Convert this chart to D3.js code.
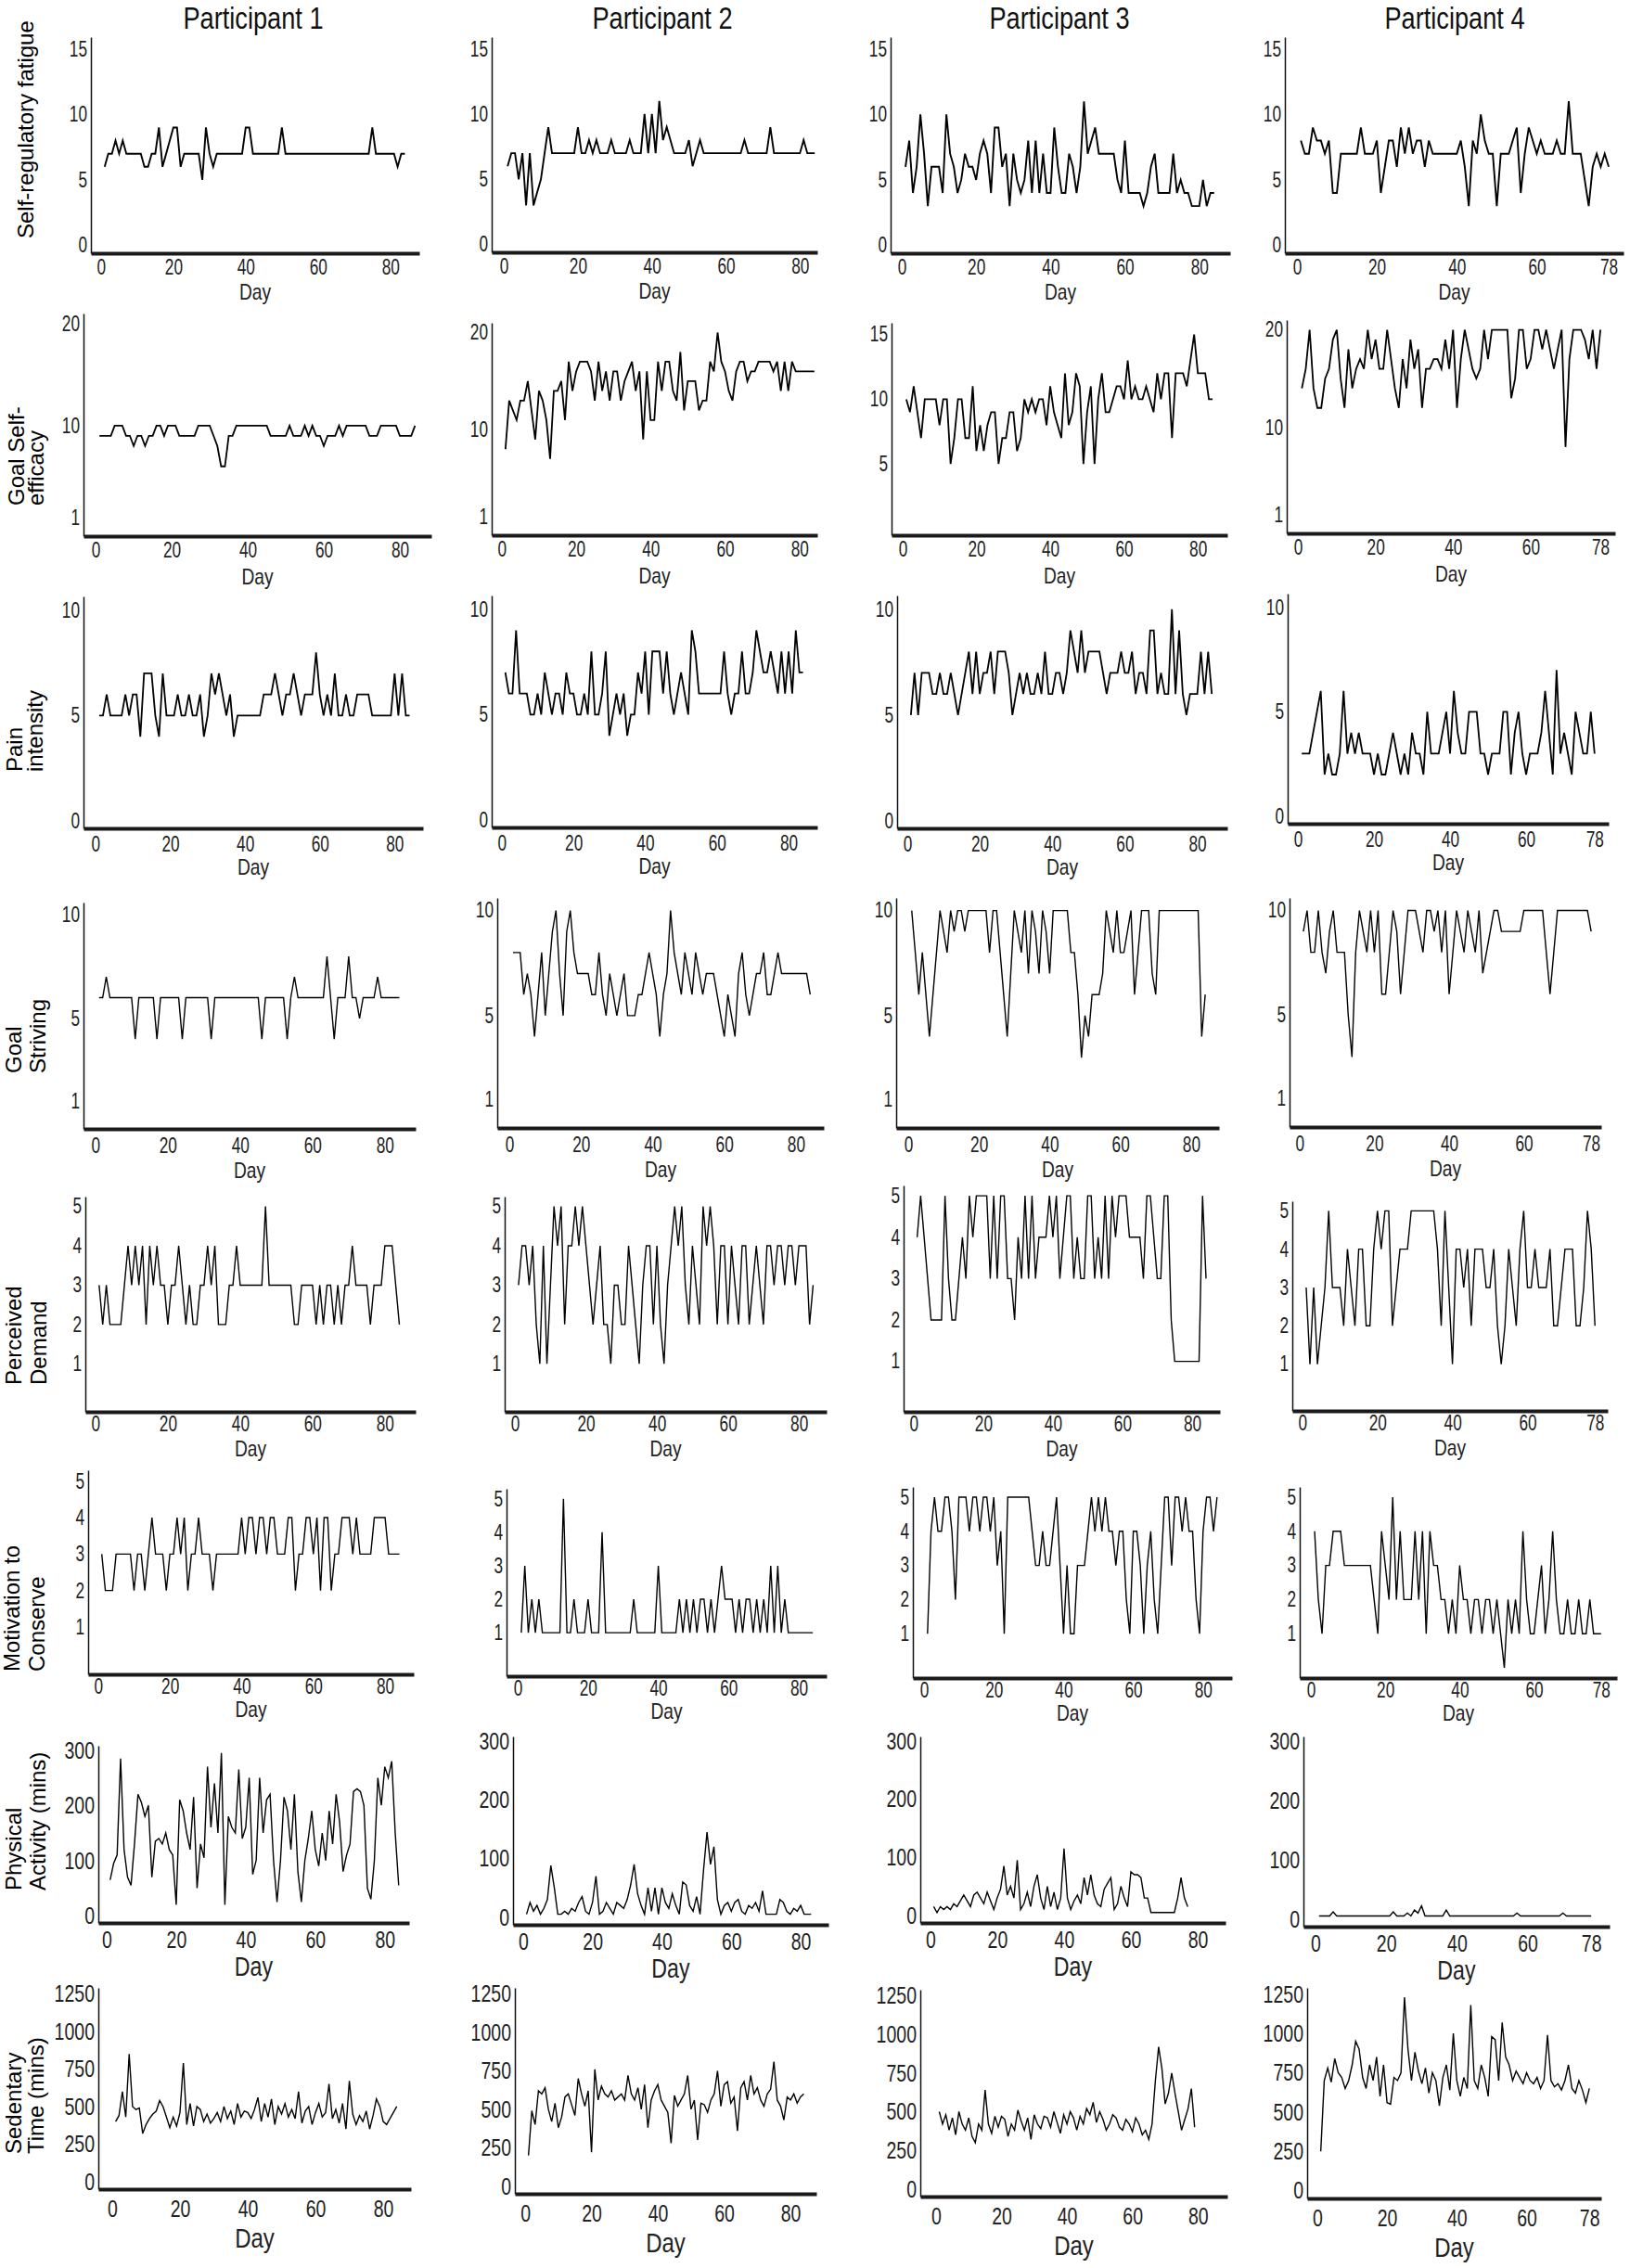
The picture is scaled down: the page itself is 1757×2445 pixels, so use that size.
<!DOCTYPE html>
<html><head><meta charset="utf-8">
<script src="https://cdn.jsdelivr.net/npm/d3@7"></script>
<style>
body{margin:0;background:#fff;}
svg{display:block;}
</style></head><body>
<svg id="chart" width="1757" height="2445"></svg>
<script>
// ---------- labels ----------
const participants = ["Participant 1","Participant 2","Participant 3","Participant 4"];
const rowLabels = [["Self-regulatory fatigue"],["Goal Self-","efficacy"],["Pain","intensity"],["Goal","Striving"],["Perceived","Demand"],["Motivation to","Conserve"],["Physical","Activity (mins)"],["Sedentary","Time (mins)"]];
const xTicksP123 = [0,20,40,60,80];
const xTicksP4 = [0,20,40,60,78];
const yTicksFatigue = [0,5,10,15];
const yTicksEfficacy = [1,10,20];
const yTicksEfficacyP3 = [5,10,15];
const yTicksPain = [0,5,10];
const yTicksStriving = [1,5,10];
const yTicksDemand = [1,2,3,4,5];
const yTicksConserve = [1,2,3,4,5];
const yTicksActivity = [0,100,200,300];
const yTicksSedentary = [0,250,500,750,1000,1250];

// ---------- data (value per day, day 1..n) ----------
const fatigueP1 = [6,7,7,8,7,8,7,7,7,7, 7,6,6,7,7,9,6,7,8,9, 9,6,7,7,7,7,7,5,9,7, 6,7,7,7,7,7,7,7,7,9, 9,7,7,7,7,7,7,7,7,9, 7,7,7,7,7,7,7,7,7,7, 7,7,7,7,7,7,7,7,7,7, 7,7,7,7,9,7,7,7,7,7, 7,6,7,7];
const fatigueP2 = [6,7,7,5,7,3,7,3,4,5, 7,9,7,7,7,7,7,7,7,9, 7,7,8,7,8,7,7,7,8,7, 7,7,7,8,7,7,7,10,7,10, 7,11,8,9,8,7,7,7,7,8, 6,7,8,7,7,7,7,7,7,7, 7,7,7,7,8,7,7,7,7,7, 7,9,7,7,7,7,7,7,7,7, 8,7,7,7];
const fatigueP3 = [6,8,4,6,10,7,3,6,6,6, 4,10,7,6,4,5,7,6,6,5, 7,8,7,4,9,9,6,7,3,7, 5,4,5,8,4,8,4,7,4,4, 9,6,4,4,7,6,4,6,11,7, 8,9,7,7,7,7,7,5,4,8, 4,4,4,4,3,4,6,7,4,4, 4,4,7,4,5,4,4,3,3,3, 5,3,4,4];
const fatigueP4 = [8,7,7,9,8,8,7,8,4,4, 7,7,7,7,7,9,7,7,7,8, 4,6,8,8,6,9,7,9,7,8, 8,6,8,7,7,7,7,7,7,7, 8,6,3,8,7,10,8,7,7,3, 7,7,7,8,9,4,7,9,8,7, 8,7,7,7,8,7,7,11,7,7, 7,5,3,6,7,6,7,6];

const efficacyP1 = [9,9,9,9,10,10,10,9,9,8, 9,9,8,9,9,10,10,9,10,10, 10,9,9,9,9,9,10,10,10,10, 9,8,6,6,9,9,10,10,10,10, 10,10,10,10,10,9,9,9,9,9, 10,9,9,9,10,9,10,9,9,8, 9,9,9,10,9,10,10,10,10,10, 10,9,9,9,10,10,10,10,10,9, 9,9,9,10];
const efficacyP2 = [8,13,12,11,13,13,15,12,9,14, 13,11,7,14,14,15,11,17,14,16, 17,17,17,16,13,17,14,16,13,16, 16,13,15,16,17,14,16,9,16,11, 11,17,14,17,17,14,13,18,12,15, 15,15,12,13,13,17,16,20,17,16, 14,13,16,17,17,15,16,16,17,17, 17,17,16,17,14,17,14,17,16,16, 16,16,16,16];
const efficacyP3 = [10,9,11,9,7,10,10,10,10,8, 10,10,5,7,10,10,7,7,11,6, 8,6,8,9,9,5,7,7,9,9, 6,7,10,9,10,9,10,10,8,11, 9,8,7,12,8,9,12,11,5,9, 11,5,10,12,9,9,10,11,11,10, 13,10,11,10,10,11,10,9,12,10, 12,12,7,12,12,12,11,13,15,12, 12,12,10,10];
const efficacyP4 = [14,16,20,14,12,12,15,16,19,20, 15,12,18,14,16,17,16,20,17,19, 16,16,20,17,14,12,17,14,19,16, 18,12,16,16,17,17,16,19,16,20, 12,17,20,18,16,15,16,20,17,20, 20,20,20,20,13,15,20,20,16,17, 20,20,18,20,18,16,18,20,8,17, 20,20,20,19,17,20,16,20];

const painP1 = [5,5,6,5,5,5,5,6,5,6, 6,4,7,7,7,5,4,7,5,5, 5,6,5,5,6,5,5,6,4,5, 7,6,7,6,5,6,4,5,5,5, 5,5,5,5,6,6,6,7,6,5, 6,6,7,6,5,6,6,6,8,6, 5,6,5,7,5,5,6,5,5,6, 6,6,6,5,5,5,5,5,5,7, 5,7,5,5];
const painP2 = [7,6,6,9,6,6,6,5,5,6, 5,7,6,5,6,6,5,7,6,6, 5,5,6,5,8,5,5,6,8,4, 5,6,5,6,4,5,5,7,6,8, 5,8,8,8,6,8,6,5,6,7, 6,5,9,8,6,6,6,6,6,6, 6,8,6,5,6,6,8,6,6,7, 9,8,7,7,8,7,6,8,6,8, 6,9,7,7];
const painP3 = [5,7,5,7,7,7,6,6,7,6, 6,7,6,5,6,7,8,6,8,6, 7,7,8,6,8,8,8,7,5,6, 7,6,7,6,6,7,6,8,6,6, 7,7,6,7,9,8,7,9,7,8, 8,8,8,7,6,7,7,7,8,7, 7,8,6,7,7,6,9,9,6,7, 6,6,10,6,9,6,5,6,6,6, 8,6,8,6];
const painP4 = [3,3,3,4,5,6,2,3,2,2, 3,6,3,4,3,4,3,3,3,2, 3,2,2,3,4,3,2,3,2,4, 3,3,2,5,3,3,3,4,5,3, 6,4,3,3,5,5,5,3,3,2, 3,3,3,5,5,2,4,5,3,2, 3,3,3,4,6,4,2,7,3,4, 3,2,5,4,3,3,5,3];

const strivingP1 = [6,6,7,6,6,6,6,6,6,6, 4,6,6,6,6,6,4,6,6,6, 6,6,6,4,6,6,6,6,6,6, 6,4,6,6,6,6,6,6,6,6, 6,6,6,6,6,4,6,6,6,6, 6,6,4,6,7,6,6,6,6,6, 6,6,6,8,6,4,6,6,6,8, 6,6,5,6,6,6,6,7,6,6, 6,6,6,6];
const strivingP2 = [8,8,8,6,7,6,4,6,8,5, 7,9,10,7,5,9,10,8,7,7, 7,7,6,6,8,6,5,7,6,5, 6,7,5,5,5,6,6,7,8,7, 6,4,6,7,10,8,7,6,8,7, 6,8,7,6,7,7,7,6,5,4, 6,5,4,7,8,6,5,6,7,7, 8,6,6,7,8,7,7,7,7,7, 7,7,7,6];
const strivingP3 = [10,8,6,8,6,4,6,8,10,9, 8,10,9,10,10,9,10,10,10,10, 10,10,8,10,10,8,6,4,7,10, 9,8,10,7,10,9,7,10,9,7, 10,10,10,10,10,8,8,6,3,5, 4,6,6,6,7,10,9,8,10,8, 8,9,10,6,8,10,10,10,7,6, 10,10,10,10,10,10,10,10,10,10, 10,10,4,6];
const strivingP4 = [9,10,8,8,10,8,7,9,10,8, 8,8,5,3,8,10,9,8,10,8, 10,6,6,8,10,9,6,8,10,10, 10,9,8,10,10,9,10,8,10,6, 8,10,9,8,10,9,8,10,7,8, 9,10,10,9,9,9,9,9,9,10, 10,10,10,10,10,8,6,8,10,10, 10,10,10,10,10,10,10,9];

const demandP1 = [3,2,3,2,2,2,2,3,4,3, 4,3,4,2,4,3,4,3,3,2, 3,3,4,3,2,3,2,2,3,3, 4,3,4,2,2,2,3,3,4,3, 3,3,3,3,3,3,5,3,3,3, 3,3,3,3,2,2,3,3,3,3, 2,3,2,3,3,2,3,2,3,3, 4,3,3,3,3,2,3,3,3,4, 4,4,3,2];
const demandP2 = [3,4,4,3,4,2,1,4,1,3, 5,4,5,2,4,4,5,4,5,4, 3,2,3,4,2,2,1,3,3,2, 2,4,3,2,1,3,4,4,2,4, 2,1,3,4,5,4,5,3,2,4, 3,2,5,4,5,4,2,4,4,2, 4,3,2,4,4,2,3,4,3,2, 4,4,3,4,4,3,4,4,3,4, 4,4,2,3];
const demandP3 = [4,5,4,3,2,2,2,2,5,3, 2,2,3,4,3,5,4,5,5,5, 5,3,5,3,5,5,3,3,2,4, 3,5,3,5,3,4,4,4,5,4, 5,3,4,5,5,3,4,3,3,5, 5,3,4,3,5,3,5,4,5,5, 5,4,4,4,4,3,5,5,4,3, 3,5,5,2,1,1,1,1,1,1, 1,1,5,3];
const demandP4 = [3,1,3,1,2,3,5,3,3,3, 2,4,3,2,4,4,2,2,4,5, 4,5,5,2,3,4,4,4,5,5, 5,5,5,5,5,4,2,5,3,1, 4,4,3,4,2,4,4,4,3,3, 4,2,1,2,4,3,2,4,5,3, 3,4,3,3,3,4,2,2,3,4, 4,4,2,2,3,5,4,2];

const conserveP1 = [3,2,2,2,3,3,3,3,3,2, 3,3,2,3,4,3,3,3,2,3, 3,4,3,4,2,3,3,4,3,3, 3,2,3,3,3,3,3,3,3,4, 3,4,4,3,4,4,3,4,4,3, 3,3,4,4,2,3,3,4,4,3, 4,2,4,4,2,3,3,4,4,4, 3,4,3,3,3,3,4,4,4,4, 3,3,3,3];
const conserveP2 = [1,3,1,2,1,2,1,1,1,1, 1,1,5,1,1,2,1,1,1,2, 1,1,1,4,1,1,1,1,1,1, 1,1,2,1,1,1,1,1,1,3, 1,1,1,1,1,2,1,2,1,2, 1,2,2,1,2,1,2,3,2,2, 2,1,2,1,2,2,1,2,1,2, 1,3,1,3,1,2,1,1,1,1, 1,1,1,1];
const conserveP3 = [1,4,5,4,4,5,5,4,2,5, 5,5,4,5,5,4,5,5,4,5, 3,4,1,5,5,5,5,5,5,5, 4,3,3,4,3,3,4,5,3,1, 3,1,1,3,3,3,4,5,4,5, 4,5,4,4,3,4,4,2,1,4, 4,3,1,3,4,2,1,3,5,5, 3,5,5,4,5,4,4,2,1,4, 5,5,4,5];
const conserveP4 = [4,2,1,3,3,4,4,4,3,3, 3,3,3,3,3,3,2,1,4,3, 2,5,2,4,2,2,2,4,2,4, 1,4,3,3,2,2,1,2,1,3, 2,2,1,2,2,1,2,2,1,2, 1,0,2,1,2,1,4,2,1,1, 2,3,1,2,4,2,1,1,2,1, 1,2,1,1,2,1,1,1];

const activityP1 = [65,95,110,285,120,70,55,130,220,205, 180,200,70,135,140,130,150,120,110,20, 210,190,150,120,215,50,130,105,270,160, 240,150,295,20,180,160,150,265,140,160, 250,75,100,250,150,210,220,100,25,100, 215,190,120,220,80,25,100,140,190,120, 90,150,100,190,130,220,170,80,110,130, 225,230,225,200,50,30,100,250,200,270, 250,280,150,55];
const activityP2 = [5,25,10,20,5,15,30,88,50,5, 5,10,5,15,10,25,35,10,5,25, 70,5,10,25,15,5,25,20,15,30, 55,90,40,20,5,50,10,50,5,50, 25,15,40,20,5,60,55,20,10,35, 5,80,145,90,120,30,5,20,25,10, 25,30,10,5,20,15,25,10,45,5, 5,5,5,30,25,10,5,15,10,20, 5,5,5];
const activityP3 = [15,5,15,10,15,10,20,15,25,35, 25,15,35,40,30,20,40,25,10,30, 45,85,35,50,30,95,10,20,40,15, 50,70,30,10,50,15,40,10,30,115, 30,10,25,35,20,65,35,70,35,20, 15,45,55,65,10,20,50,30,15,75, 70,70,65,30,30,5,5,5,5,5, 5,5,5,30,65,30,15];
const activityP4 = [5,5,5,5,12,5,5,5,5,5, 5,5,5,5,5,5,5,5,5,5, 5,12,5,5,5,10,5,15,10,22, 5,5,5,5,5,5,15,5,5,5, 5,5,5,5,5,5,5,5,5,5, 5,5,5,5,5,5,10,5,5,5, 5,5,5,5,5,5,5,5,5,10, 5,5,5,5,5,5,5,5];

const sedentaryP1 = [400,440,600,430,850,500,480,490,320,380, 420,450,470,540,500,430,360,430,370,460, 790,380,520,370,500,480,400,450,390,420, 460,400,500,420,470,380,520,430,470,460, 420,480,560,400,520,430,550,380,500,450, 520,430,480,420,600,390,470,500,380,460, 520,430,460,650,420,480,390,520,350,670, 450,380,440,400,470,350,440,550,500,400, 380,420,460,500];
const sedentaryP2 = [200,490,400,620,600,640,500,420,540,380, 450,580,600,530,460,700,600,520,620,220, 760,560,650,600,580,620,560,580,600,560, 720,600,560,640,500,660,380,560,620,660, 560,520,480,280,590,520,560,600,720,500, 560,300,540,530,480,560,600,750,520,660, 680,540,580,360,640,680,560,720,600,640, 560,520,600,630,810,560,520,430,580,560, 600,540,580,600];
const sedentaryP3 = [500,420,480,380,460,350,500,420,380,460, 340,300,420,380,640,420,360,470,400,470, 450,340,420,380,510,440,380,460,320,480, 420,390,470,460,400,500,430,360,480,420, 500,460,380,470,420,520,480,560,430,500, 450,380,420,480,460,400,380,450,420,370, 460,420,350,380,320,420,700,920,780,550, 620,750,620,500,380,450,520,650,400];
const sedentaryP4 = [250,700,780,690,840,750,720,650,700,800, 950,900,720,650,800,700,850,600,800,560, 550,720,700,750,1230,900,700,880,760,680, 780,620,750,700,540,720,800,640,1000,700, 600,720,650,1180,700,650,800,720,600,980, 960,700,1070,850,800,700,760,720,680,750, 700,680,720,650,700,990,700,660,680,640, 700,800,650,620,700,640,560,650];

const seriesRows = [
  [fatigueP1, fatigueP2, fatigueP3, fatigueP4],
  [efficacyP1, efficacyP2, efficacyP3, efficacyP4],
  [painP1, painP2, painP3, painP4],
  [strivingP1, strivingP2, strivingP3, strivingP4],
  [demandP1, demandP2, demandP3, demandP4],
  [conserveP1, conserveP2, conserveP3, conserveP4],
  [activityP1, activityP2, activityP3, activityP4],
  [sedentaryP1, sedentaryP2, sedentaryP3, sedentaryP4]
];
const yTickRows = [
  [yTicksFatigue,yTicksFatigue,yTicksFatigue,yTicksFatigue],
  [yTicksEfficacy,yTicksEfficacy,yTicksEfficacyP3,yTicksEfficacy],
  [yTicksPain,yTicksPain,yTicksPain,yTicksPain],
  [yTicksStriving,yTicksStriving,yTicksStriving,yTicksStriving],
  [yTicksDemand,yTicksDemand,yTicksDemand,yTicksDemand],
  [yTicksConserve,yTicksConserve,yTicksConserve,yTicksConserve],
  [yTicksActivity,yTicksActivity,yTicksActivity,yTicksActivity],
  [yTicksSedentary,yTicksSedentary,yTicksSedentary,yTicksSedentary]
];

// ---------- layout (panel geometry) ----------
const yDomains = [[-0.6,15.9],[-0.85,21],[-0.35,10.65],[-0.35,10.6],[-0.22,5.25],[-0.3,5.3],[-13,308],[-50,1290]];
const yDomainEffP3 = [-0.5,15.9];
// [axisLeftX, axisRightX, dayAtLeft, dayAtRight, top, bottom]
const boxes = [
  [[98,452,-2.8,88,40,273],[530,881,-3.3,84.7,40,272],[960,1326,-3,88.3,40,273],[1385,1750,-3,81.7,40,273]],
  [[90,465,-3.2,88.3,338,578],[530,881,-2.7,84.8,348,577],[961,1323,-3,88,348,577],[1387,1741,-2.9,81.8,345,575]],
  [[90,456,-3.2,87.6,643,893],[530,881,-2.8,88,642,892],[967,1323,-2.8,88.3,642,893],[1388,1734,-2.7,81.7,640,888]],
  [[90,448,-3.3,88.5,973,1217],[536,888,-3.4,87.8,968,1216],[966,1314,-3.4,87.9,968,1216],[1390,1726,-2.7,80.7,968,1215]],
  [[92,448,-2.8,88.5,1290,1522],[544,891,-2.9,87.8,1290,1522],[974,1315,-2.9,88,1278,1522],[1393,1733,-2.7,81.4,1295,1521]],
  [[95,446,-2.8,88,1585,1805],[546,891,-3.2,87.9,1605,1807],[984,1328,-3.2,88.3,1603,1809],[1401,1743,-3,82.3,1603,1809]],
  [[106,441,-2.4,87,1882,2073],[553,893,-2.9,88,1872,2075],[992,1321,-3,88.3,1872,2073],[1405,1735,-3.4,83.2,1872,2077]],
  [[106,443,-4.1,88.2,2143,2360],[555,880,-3.1,87.8,2143,2365],[992,1323,-4.8,89,2145,2368],[1409,1726,-2.9,81.4,2143,2370]]
];
const tickBase = [23,23,25,26,21,21,27,30];
const dayBase = [50,52,50,53,48,46,57,63];
const tickFont = [23,23,23,23,23,23,26,26];
const dayFont = [24,24,24,24,24,24,29,30];
const lineW = [1.9,1.8,1.8,1.4,1.4,1.4,1.4,1.4];
const titleX = [273,714,1142,1568];
const rowLabelX = [[28],[18,39],[16,38],[15,41],[15,42],[13,40],[15,41],[15,39]];
const rowLabelBottom = [257,545,832,1157,1493,1802,2038,2322];

const SANS = '"Liberation Sans",Arial,Helvetica,sans-serif';
function condense(sel, k){
  sel.each(function(){
    const w = this.getComputedTextLength();
    if (w > 0) {
      this.setAttribute("textLength", (w*k).toFixed(2));
      this.setAttribute("lengthAdjust","spacingAndGlyphs");
    }
  });
}

const svg = d3.select("#chart");
svg.append("rect").attr("width",1757).attr("height",2445).attr("fill","#fff");

// titles
const titles = svg.selectAll("text.title").data(participants).join("text")
  .attr("class","title").attr("x",(d,i)=>titleX[i]).attr("y",31)
  .attr("text-anchor","middle").style("font-family",SANS).style("font-size","34px")
  .attr("fill","#111").text(d=>d);
condense(titles, 0.8);

// row labels
rowLabels.forEach((lines,ri)=>{
  lines.forEach((t,li)=>{
    const x = rowLabelX[ri][li], y = rowLabelBottom[ri];
    svg.append("text").attr("transform",`translate(${x},${y}) rotate(-90)`)
      .attr("dy","0.35em").attr("text-anchor","start")
      .style("font-family",SANS).style("font-size","24px").attr("fill","#000").text(t);
  });
});

seriesRows.forEach((row,ri)=>{
  row.forEach((vals,ci)=>{
    const [x0,x1,d0,d1,top,bottom] = boxes[ri][ci];
    const x = d3.scaleLinear().domain([d0,d1]).range([x0,x1]);
    const yd = (ri===1 && ci===2) ? yDomainEffP3 : yDomains[ri];
    const y = d3.scaleLinear().domain(yd).range([bottom,top]);
    const g = svg.append("g");

    const line = d3.line().x((d,i)=>x(i+1)).y(d=>y(d));
    g.append("path").datum(vals).attr("d",line).attr("fill","none")
      .attr("stroke","#000").attr("stroke-width",lineW[ri]).attr("stroke-linejoin","miter");

    const ya = g.append("g").attr("transform",`translate(${x0},0)`)
      .call(d3.axisLeft(y).tickValues(yTickRows[ri][ci]).tickSize(0).tickSizeOuter(0).tickPadding(4).tickFormat(d3.format("d")));
    ya.attr("font-family",null).attr("font-size",null);
    ya.select(".domain").attr("stroke","#111").attr("stroke-width",1.5);
    const yt = ya.selectAll("text").style("font-family",SANS).style("font-size",tickFont[ri]+"px").attr("fill","#222");
    condense(yt, 0.75);

    const xt = ci===3 ? xTicksP4 : xTicksP123;
    const pad = tickBase[ri] - 0.71*tickFont[ri];
    const xa = g.append("g").attr("transform",`translate(0,${bottom})`)
      .call(d3.axisBottom(x).tickValues(xt).tickSize(0).tickSizeOuter(0).tickPadding(pad));
    xa.attr("font-family",null).attr("font-size",null);
    xa.select(".domain").attr("stroke","#1a1a1a").attr("stroke-width",4);
    const xtt = xa.selectAll("text").style("font-family",SANS).style("font-size",tickFont[ri]+"px").attr("fill","#222");
    condense(xtt, 0.75);

    const day = g.append("text").attr("x",(x0+x1)/2).attr("y",bottom+dayBase[ri])
      .attr("text-anchor","middle").style("font-family",SANS).style("font-size",dayFont[ri]+"px")
      .attr("fill","#222").text("Day");
    condense(day, 0.8);
  });
});
</script>
</body></html>
